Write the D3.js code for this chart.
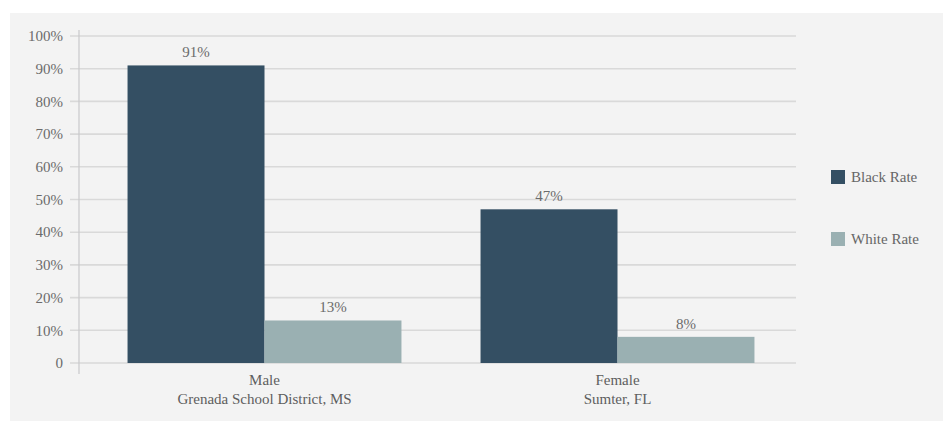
<!DOCTYPE html>
<html>
<head>
<meta charset="utf-8">
<script src="https://cdn.jsdelivr.net/npm/d3@7"></script>
<style>
  body { margin: 0; background: #fff; }
  text { font-family: "Liberation Serif", serif; }
</style>
</head>
<body>
<div id="chart"></div>
<script>
const groups = ["Male", "Female"];
const groupSub = ["Grenada School District, MS", "Sumter, FL"];
const series = ["Black Rate", "White Rate"];
const blackRate = [91, 47];
const whiteRate = [13, 8];
const yTicks = [0, 10, 20, 30, 40, 50, 60, 70, 80, 90, 100];
const colors = ["#344f63", "#9ab0b2"];

const dims = { width: 943, height: 421 };

const data = groups.map((g, i) => ({ group: g, sub: groupSub[i], values: [blackRate[i], whiteRate[i]] }));

const svg = d3.select("#chart")
    .append("svg")
    .attr("width", dims.width)
    .attr("height", dims.height);

// panel background
svg.append("rect")
    .attr("x", 10).attr("y", 13)
    .attr("width", dims.width - 10).attr("height", dims.height - 13)
    .attr("fill", "#f3f3f3");

const y = d3.scaleLinear().domain([0, 100]).range([363, 36]);
const x0 = d3.scaleBand().domain(groups).range([88, 794]).paddingInner(0.224).paddingOuter(0.112);
const x1 = d3.scaleBand().domain(series).range([0, x0.bandwidth()]);

// gridlines
svg.append("g")
    .selectAll("line")
    .data(yTicks)
    .join("line")
    .attr("x1", 70).attr("x2", 796)
    .attr("y1", d => y(d)).attr("y2", d => y(d))
    .attr("stroke", "#d9d9d9")
    .attr("stroke-width", 1.6);

// y axis line
svg.append("line")
    .attr("x1", 79).attr("x2", 79)
    .attr("y1", 30).attr("y2", 374)
    .attr("stroke", "#c9c9cc")
    .attr("stroke-width", 1.2);

// y tick labels
svg.append("g")
    .selectAll("text")
    .data(yTicks)
    .join("text")
    .attr("x", 63)
    .attr("y", d => y(d))
    .attr("dy", "0.35em")
    .attr("text-anchor", "end")
    .attr("fill", "#6b6b6b")
    .attr("font-size", 15)
    .text(d => d === 0 ? "0" : d + "%");

// bars
const gBars = svg.append("g")
    .selectAll("g")
    .data(data)
    .join("g")
    .attr("transform", d => `translate(${x0(d.group)},0)`);

gBars.selectAll("rect")
    .data(d => d.values.map((v, i) => ({ key: series[i], v, i })))
    .join("rect")
    .attr("x", d => x1(d.key))
    .attr("y", d => y(d.v))
    .attr("width", x1.bandwidth())
    .attr("height", d => y(0) - y(d.v))
    .attr("fill", d => colors[d.i]);

gBars.selectAll("text")
    .data(d => d.values.map((v, i) => ({ key: series[i], v, i })))
    .join("text")
    .attr("x", d => x1(d.key) + x1.bandwidth() / 2)
    .attr("y", d => y(d.v) - 8)
    .attr("text-anchor", "middle")
    .attr("fill", "#6b6b6b")
    .attr("font-size", 15)
    .text(d => d.v + "%");

// category labels
const cat = svg.append("g")
    .selectAll("text")
    .data(data)
    .join("text")
    .attr("x", d => x0(d.group) + x0.bandwidth() / 2)
    .attr("text-anchor", "middle")
    .attr("fill", "#5e5e5e")
    .attr("font-size", 15);
cat.append("tspan").attr("x", d => x0(d.group) + x0.bandwidth() / 2).attr("y", 385).text(d => d.group);
cat.append("tspan").attr("x", d => x0(d.group) + x0.bandwidth() / 2).attr("y", 404).text(d => d.sub);

// legend
const legend = svg.append("g")
    .selectAll("g")
    .data(series)
    .join("g")
    .attr("transform", (d, i) => `translate(831,${170 + i * 62})`);
legend.append("rect")
    .attr("width", 14).attr("height", 14)
    .attr("fill", (d, i) => colors[i]);
legend.append("text")
    .attr("x", 20).attr("y", 7)
    .attr("dy", "0.35em")
    .attr("fill", "#666")
    .attr("font-size", 15)
    .text(d => d);
</script>
</body>
</html>
